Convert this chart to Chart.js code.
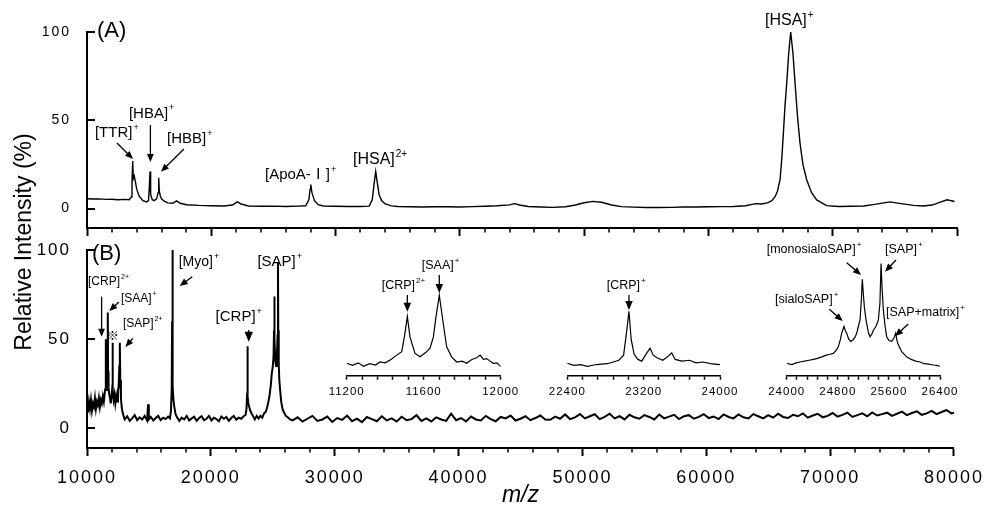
<!DOCTYPE html>
<html>
<head>
<meta charset="utf-8">
<script src="https://cdn.jsdelivr.net/npm/chart.js"></script>
<style>
html, body { margin: 0; padding: 0; background: #fff; }
#wrap { position: relative; width: 990px; height: 507px; }
#wrap canvas { position: absolute; left: 0; top: 0; }
</style>
</head>
<body>
<div id="wrap">
  <canvas id="chartA" width="990" height="507"></canvas>
  <canvas id="chartB" width="990" height="507"></canvas>
  <canvas id="inset1" width="990" height="507"></canvas>
  <canvas id="inset2" width="990" height="507"></canvas>
  <canvas id="inset3" width="990" height="507"></canvas>
</div>
<script>
// Tick labels
const xTickLabels = [10000, 20000, 30000, 40000, 50000, 60000, 70000, 80000];
const yTickLabels = [0, 50, 100];
const in1TickLabels = [11200, 11600, 12000];
const in2TickLabels = [22400, 23200, 24000];
const in3TickLabels = [24000, 24800, 25600, 26400];

// Panel (A) spectrum
const aMz = [10000,10500,11000,11500,12000,12500,13000,13400,13550,13620,
  13680,13720,13800,13900,14000,14200,14500,14800,14950,15020,
  15070,15120,15250,15400,15600,15720,15770,15820,15900,16000,
  16200,16500,16900,17200,17500,18000,19000,20000,21000,21700,
  22100,22400,23000,24000,25000,26000,27000,27600,27850,27950,
  28000,28100,28300,28600,29000,30000,31000,32000,32700,32950,
  33100,33230,33350,33500,33700,34000,34500,35000,36000,37000,
  38000,39000,40000,41000,42000,43000,44000,44400,44800,45500,
  46500,47500,48500,49300,50000,50700,51400,52200,53000,54000,
  55000,56000,57000,58000,59000,60000,61000,62000,63000,63800,
  64300,64800,65100,65360,65560,65760,65900,66030,66160,66300,
  66460,66620,66800,66970,67170,67370,67600,67910,68300,68710,
  69500,70500,71500,72500,73500,74600,75500,76500,77300,78000,
  78600,79200,79800];
const aInt = [5.6,5.4,5.5,5.2,5.3,5.0,5.2,5.0,6.5,15,
  27,17,18.5,15,11,7,4.5,3.8,4.5,13,
  21,8,5,4.5,5.5,9,17.5,10,7,5.5,
  4.2,3.2,3.0,4.4,3.0,2.2,1.8,1.6,1.5,2.0,
  3.8,2.6,1.5,1.3,1.4,1.2,1.4,1.6,5,11,
  13.6,9,4.5,2.2,1.5,1.3,1.2,1.2,1.4,5,
  14,21,15,8,4.5,2.6,1.5,1.2,1.0,0.9,
  1.0,1.0,0.9,1.1,1.3,1.6,2.1,2.8,2.0,1.2,
  0.9,0.7,1.0,2.0,3.3,4.1,3.6,2.0,1.1,0.8,
  0.6,0.6,0.7,0.9,0.9,1.0,1.1,1.2,1.6,2.8,
  2.6,3.4,4.5,6.7,10,16.2,28,42.6,58,71,
  88,100,88,71,52,37,25,16.2,9,4.9,
  1.7,1.2,1.3,1.5,2.5,3.8,2.8,1.8,1.5,2.0,
  3.5,5,4];

// Panel (B) spectrum
const bMz = [10000,10080,10160,10240,10320,10400,10480,10560,10640,10720,
  10800,10880,10960,11040,11120,11200,11280,11360,11420,11470,
  11510,11530,11550,11600,11640,11670,11685,11700,11740,11800,
  11860,11920,11980,12030,12060,12090,12150,12220,12290,12360,
  12430,12500,12560,12610,12650,12690,12740,12800,12870,12950,
  13050,13250,13450,13650,13850,14050,14250,14450,14650,14850,
  14930,14990,15150,15350,15550,15750,15950,16150,16350,16550,
  16700,16780,16840,16870,16890,16910,16940,16980,17050,17150,
  17250,17450,17650,17850,18050,18250,18450,18650,18850,19050,
  19250,19450,19650,19850,20050,20250,20450,20650,20850,21050,
  21250,21450,21650,21850,22050,22250,22450,22650,22800,22880,
  22930,22955,22980,23030,23100,23180,23280,23400,23550,23700,
  23850,24000,24150,24300,24450,24550,24650,24750,24850,24920,
  24990,25060,25100,25125,25150,25200,25260,25330,25390,25420,
  25445,25480,25530,25600,25680,25780,25900,26050,26250,26400,
  26600,27000,27400,27800,28200,28600,29000,29400,29800,30200,
  30600,31000,31400,31800,32200,32600,33000,33400,33800,34200,
  34600,35000,35400,35800,36200,36600,37000,37400,37800,38200,
  38600,39000,39400,39800,40200,40600,41000,41400,41800,42200,
  42600,43000,43400,43800,44200,44600,45000,45400,45800,46200,
  46600,47000,47400,47800,48200,48600,49000,49400,49800,50200,
  50600,51000,51400,51800,52200,52600,53000,53400,53800,54200,
  54600,55000,55400,55800,56200,56600,57000,57400,57800,58200,
  58600,59000,59400,59800,60200,60600,61000,61400,61800,62200,
  62600,63000,63400,63800,64200,64600,65000,65400,65800,66200,
  66600,67000,67400,67800,68200,68600,69000,69400,69800,70200,
  70600,71000,71400,71800,72200,72600,73000,73400,73800,74200,
  74600,75000,75400,75800,76200,76600,77000,77400,77800,78200,
  78600,79000,79400,79800,80000];
const bInt = [13,9,15,11,16,10,14,12,17,11,
  15,13,17,12,16,14,18,15,19,22,
  33,50,26,21,28,45,65,32,23,19,
  17,14,18,22,48,21,16,19,14,18,
  15,21,24,35,48,27,17,12,9,7,
  5,6.8,4.2,5.6,7.4,4.6,6.2,5,7,4.4,
  13.5,5,6.4,4.4,5.8,7,4.6,6,5.2,6.6,
  5.6,10,22,60,100,55,24,16,12,8,
  6.5,4.2,6,5,7,4.4,5.6,6.6,4.2,5.8,
  6.8,4.6,5.4,7,4.4,6,5.2,4,6.6,5.4,
  6.4,4.2,5.8,7,4.8,6,5.4,6.8,7.5,11,
  20,46,18,14,12,10,8.5,7,5,7,
  5.5,7,6,8.5,9.5,12,15,19,25,31,
  34,40,55,74,50,38,35,40,52,93,
  55,36,27,21,15,11,9,7,6,5,
  4.5,6.2,3.8,5.4,7,4.2,5,6.6,3.6,5.8,
  4.8,7.2,4,5.5,3.5,6.4,5.2,4,6.8,4.5,
  5.6,3.8,6.5,4.6,5.2,7.4,4.2,5.6,3.9,6.2,
  5,4.2,8.2,4.6,5.8,3.9,6.6,5,4.4,7,
  5.2,4,6.4,5.6,7.2,4.4,5.4,6.8,4.6,5.8,
  7.2,5,4.8,6.6,5.4,7.8,5.2,6.2,8,5.6,
  6.8,7.9,5.2,6.4,8.2,5.6,6.8,5,7.6,6.2,
  5.4,7.4,6.4,5,7.8,5.6,6.6,7.6,5.2,6.8,
  7.4,5.4,6.4,8,5.8,6.6,5.2,7.8,6.4,5.6,
  7.8,6.2,5.6,8,6.8,5.6,7.4,6,8.2,6.4,
  5.8,7.6,6.8,8.4,6,7.2,8.2,6.2,7,8.6,
  6.6,7.6,8.8,6.4,7.4,8.4,6.8,8.9,7.2,8,
  8.8,7,8.2,9.4,7.4,8.6,9.6,7.6,8.4,9.8,
  8,9.2,10.2,8.4,8.8];

// Insets
const in1Mz = [11200,11230,11260,11287,11320,11350,11373,11400,11430,11460,
  11486,11503,11515,11529,11555,11581,11610,11633,11650,11664,
  11681,11699,11719,11745,11771,11800,11823,11850,11875,11893,
  11910,11927,11945,11962,11980,12000];
const in1Int = [14.5,12,15,11,14,12.5,16,15,19,24,
  28,50,69,45,26,22,27,32,45,69,
  94,65,34,22,16,17,14.5,19,21,24,
  19,20,17,14.5,15,10.5];
const in2Mz = [22400,22470,22540,22610,22680,22750,22820,22880,22940,22990,
  23020,23046,23070,23100,23140,23180,23230,23267,23300,23340,
  23400,23450,23494,23530,23600,23680,23750,23820,23900,24000];
const in2Int = [14.5,12,13,11,12.5,13.5,14,16,18,24,
  50,75,42,25,19,17,26,32,24,21,
  18,22,26.5,19,17,18,15,16,14,13];
const in3Mz = [24000,24080,24150,24209,24280,24350,24420,24470,24550,24620,
  24680,24730,24780,24809,24840,24861,24897,24920,24939,24970,
  25002,25040,25070,25096,25130,25148,25170,25184,25200,25216,
  25240,25252,25280,25304,25330,25357,25400,25435,25460,25477,
  25495,25513,25540,25565,25600,25643,25680,25706,25730,25748,
  25800,25878,25950,26020,26087,26150,26220,26296,26350,26400];
const in3Int = [14.5,13,15,16,17,18,19,20,22,24,
  25,26,30,34,42,49.5,57.5,52,49.5,43,
  40,42,45,49.5,60,65,90,112.5,95,80,
  66,61,50,45.5,48,53,58,65,85,131,
  100,76.7,58,45.5,41,40,44,49.5,40,36,
  28,22,19,17,16,14,13.5,12.5,12,11];

const FONT = '"Liberation Sans", Arial, sans-serif';
const CJK = '"Liberation Sans", "Noto Sans CJK JP", sans-serif';

function pts(mz, val) {
    return mz.map((m, i) => ({ x: m, y: val[i] }));
}

function drawArrow(ctx, x1, y1, x2, y2, head) {
    const a = Math.atan2(y2 - y1, x2 - x1);
    const c = Math.cos(a), s = Math.sin(a);
    ctx.beginPath();
    ctx.moveTo(x1, y1);
    ctx.lineTo(x2 - c * head * 0.7, y2 - s * head * 0.7);
    ctx.stroke();
    ctx.beginPath();
    ctx.moveTo(x2, y2);
    ctx.lineTo(x2 - head * c + head * 0.42 * s, y2 - head * s - head * 0.42 * c);
    ctx.lineTo(x2 - head * c - head * 0.42 * s, y2 - head * s + head * 0.42 * c);
    ctx.closePath();
    ctx.fill();
}

function drawLabel(ctx, x, y, n) {
    const fam = n.cjk ? CJK : FONT;
    const size = n.size || 15;
    const ss = Math.round(size * 0.62);
    ctx.font = size + 'px ' + fam;
    const w1 = ctx.measureText(n.text).width;
    ctx.font = ss + 'px ' + FONT;
    const w2 = n.sup ? ctx.measureText(n.sup).width + 1 : 0;
    const x0 = n.align === 'center' ? x - (w1 + w2) / 2 : x;
    ctx.textAlign = 'left';
    ctx.textBaseline = 'middle';
    ctx.font = size + 'px ' + fam;
    ctx.fillText(n.text, x0, y);
    if (n.sup) {
        ctx.font = ss + 'px ' + FONT;
        ctx.fillText(n.sup, x0 + w1 + 1, y - size * 0.38);
    }
}

// draws minor ticks, inward y ticks, labels and arrows for one chart
function makeFig(cfg) {
    return {
        id: 'fig',
        beforeDraw(chart) {
            chart.ctx.letterSpacing = cfg.spacing || '0px';
        },
        afterDraw(chart) {
            const ctx = chart.ctx;
            const xs = chart.scales.x, ys = chart.scales.y;
            const area = chart.chartArea;
            ctx.save();
            ctx.letterSpacing = '0px';
            ctx.strokeStyle = '#000';
            ctx.fillStyle = '#000';
            if (cfg.minor) {
                ctx.lineWidth = 1.5;
                for (let i = 0; i < xTickLabels.length - 1; i++) {
                    const st = (xTickLabels[i + 1] - xTickLabels[i]) / 5;
                    for (let k = 1; k < 5; k++) {
                        const px = Math.round(xs.getPixelForValue(xTickLabels[i] + k * st));
                        ctx.beginPath();
                        ctx.moveTo(px, area.bottom);
                        ctx.lineTo(px, area.bottom + 4.5);
                        ctx.stroke();
                    }
                }
            }
            if (cfg.inward) {
                ctx.lineWidth = 2;
                yTickLabels.forEach(v => {
                    const py = Math.round(ys.getPixelForValue(v));
                    ctx.beginPath();
                    ctx.moveTo(area.left, py);
                    ctx.lineTo(area.left + 8, py);
                    ctx.stroke();
                });
            }
            ctx.lineWidth = 1.3;
            (cfg.notes || []).forEach(n => {
                if (n.arrow) {
                    drawArrow(ctx,
                        xs.getPixelForValue(n.arrow[0]), ys.getPixelForValue(n.arrow[1]),
                        xs.getPixelForValue(n.arrow[2]), ys.getPixelForValue(n.arrow[3]),
                        n.head || 8);
                }
                if (n.text) {
                    drawLabel(ctx, xs.getPixelForValue(n.x), ys.getPixelForValue(n.y), n);
                }
            });
            if (cfg.titles) {
                ctx.textAlign = 'center';
                ctx.textBaseline = 'middle';
                ctx.font = 'italic 23px ' + FONT;
                ctx.fillText('m/z', (area.left + area.right) / 2, 496);
                ctx.save();
                ctx.translate(25, 242);
                ctx.rotate(-Math.PI / 2);
                ctx.font = '23px ' + FONT;
                ctx.fillText('Relative Intensity (%)', 0, 0);
                ctx.restore();
            }
            ctx.restore();
        }
    };
}

const notesA = [
    { text: '(A)', x: 10800, y: 100.5, size: 22 },
    { text: '[TTR]', sup: '+', x: 10640, y: 42.8, arrow: [12410, 37.1, 13700, 28.1] },
    { text: '[HBA]', sup: '+', x: 15200, y: 53.8, align: 'center', arrow: [15100, 47.3, 15100, 26.4] },
    { text: '[HBB]', sup: '+', x: 16440, y: 39.4, arrow: [17800, 33.7, 15950, 20.9] },
    { text: '[ApoA-Ⅰ]', sup: '+', x: 24320, y: 19.0, cjk: true },
    { text: '[HSA]', sup: '2+', x: 31400, y: 27.5, size: 16 },
    { text: '[HSA]', sup: '+', x: 64550, y: 106.2, size: 16 }
];

const notesB = [
    { text: '(B)', x: 10400, y: 97.8, size: 22 },
    { text: '[CRP]', sup: '2+', x: 10080, y: 82.1, size: 12, arrow: [11180, 73.8, 11180, 51.4] },
    { text: '[SAA]', sup: '+', x: 12740, y: 72.5, size: 12, arrow: [12570, 70.8, 11800, 65.8] },
    { text: '※', x: 12050, y: 51.8, size: 13, align: 'center', cjk: true },
    { text: '[SAP]', sup: '2+', x: 12900, y: 58.5, size: 12, arrow: [13700, 50.5, 13100, 45.6] },
    { text: '[Myo]', sup: '+', x: 17400, y: 93.3, size: 14, arrow: [18500, 85.0, 17480, 79.8] },
    { text: '[CRP]', sup: '+', x: 20380, y: 62.4, size: 15, arrow: [23060, 55.2, 23060, 48.6], head: 10 },
    { text: '[SAP]', sup: '+', x: 23760, y: 93.3, size: 15 }
];

const notesIn1 = [
    { text: '[CRP]', sup: '2+', x: 11382, y: 104.7, size: 12.5, arrow: [11515, 94.2, 11515, 74.7], head: 9 },
    { text: '[SAA]', sup: '+', x: 11590, y: 128, size: 12.5, arrow: [11681, 117.5, 11681, 96.5], head: 9 }
];
const notesIn2 = [
    { text: '[CRP]', sup: '+', x: 22813, y: 104.7, size: 12.5, arrow: [23046, 94.2, 23046, 76.7], head: 9 }
];
const notesIn3 = [
    { text: '[monosialoSAP]', sup: '+', x: 23687, y: 146.7, size: 12.5, arrow: [24939, 131.9, 25163, 117.5] },
    { text: '[SAP]', sup: '+', x: 25539, y: 146.7, size: 12.5, arrow: [25711, 135, 25539, 121.4] },
    { text: '[sialoSAP]', sup: '+', x: 23817, y: 88.3, size: 12.5, arrow: [24667, 77.5, 24877, 63.8] },
    { text: '[SAP+matrix]', sup: '+', x: 25555, y: 73.2, size: 12.5, arrow: [25904, 60.3, 25696, 46.3] }
];

function mainChart(id, mz, val, opts) {
    return new Chart(document.getElementById(id), {
        type: 'line',
        data: {
            datasets: [{
                data: pts(mz, val),
                borderColor: '#000',
                borderWidth: opts.lineWidth,
                pointRadius: 0,
                tension: 0
            }]
        },
        options: {
            responsive: false,
            animation: false,
            events: [],
            layout: { padding: opts.padding },
            plugins: { legend: { display: false }, tooltip: { enabled: false } },
            scales: {
                x: {
                    type: 'linear',
                    min: xTickLabels[0],
                    max: xTickLabels[xTickLabels.length - 1],
                    afterBuildTicks: s => { s.ticks = xTickLabels.map(v => ({ value: v })); },
                    afterFit: s => { s.height = opts.xHeight; },
                    ticks: {
                        display: opts.xLabels,
                        autoSkip: false,
                        maxRotation: 0,
                        color: '#000',
                        padding: 11,
                        font: { family: FONT, size: 18 },
                        callback: v => String(v)
                    },
                    grid: { drawOnChartArea: false, tickLength: 8, tickWidth: 2, tickColor: '#000' },
                    border: { color: '#000', width: 2 }
                },
                y: {
                    min: -11,
                    max: 100,
                    afterBuildTicks: s => { s.ticks = yTickLabels.map(v => ({ value: v })); },
                    afterFit: s => { s.width = 87; },
                    ticks: { color: '#000', padding: 8, font: { family: FONT, size: opts.ySize }, callback: v => String(v) },
                    grid: { display: false },
                    border: { color: '#000', width: 2 }
                }
            }
        },
        plugins: [makeFig({ spacing: '2px', minor: true, inward: true, notes: opts.notes, titles: opts.titles })]
    });
}

function insetChart(id, mz, val, labels, padL, padR, notes) {
    return new Chart(document.getElementById(id), {
        type: 'line',
        data: {
            datasets: [{
                data: pts(mz, val),
                borderColor: '#000',
                borderWidth: 1.2,
                pointRadius: 0,
                tension: 0
            }]
        },
        options: {
            responsive: false,
            animation: false,
            events: [],
            layout: { padding: { top: 255.7, bottom: 106.3, left: padL, right: padR } },
            plugins: { legend: { display: false }, tooltip: { enabled: false } },
            scales: {
                x: {
                    type: 'linear',
                    min: labels[0],
                    max: labels[labels.length - 1],
                    afterBuildTicks: s => {
                        const t = [];
                        for (let i = 0; i < labels.length - 1; i++) {
                            const st = (labels[i + 1] - labels[i]) / 5;
                            for (let k = 0; k < 5; k++) t.push({ value: labels[i] + k * st });
                        }
                        t.push({ value: labels[labels.length - 1] });
                        s.ticks = t;
                    },
                    afterFit: s => { s.height = 25; },
                    ticks: {
                        autoSkip: false,
                        maxRotation: 0,
                        color: '#000',
                        padding: 5,
                        font: { family: FONT, size: 11.5 },
                        callback: v => labels.includes(v) ? String(v) : ''
                    },
                    grid: { drawOnChartArea: false, tickLength: 4, tickWidth: 1.5, tickColor: '#000' },
                    border: { color: '#000', width: 1.5 }
                },
                y: { display: false, min: 0, max: 140 }
            }
        },
        plugins: [makeFig({ spacing: '1px', notes: notes })]
    });
}

mainChart('chartA', aMz, aInt, {
    padding: { top: 32, right: 33, bottom: 271, left: 0 },
    xHeight: 8, xLabels: false, ySize: 14, lineWidth: 1.4, notes: notesA
});
mainChart('chartB', bMz, bInt, {
    padding: { top: 250, right: 33, bottom: 0, left: 0 },
    xHeight: 59, xLabels: true, ySize: 17, lineWidth: 2, notes: notesB, titles: true
});
insetChart('inset1', in1Mz, in1Int, in1TickLabels, 346.7, 489.3, notesIn1);
insetChart('inset2', in2Mz, in2Int, in2TickLabels, 567.3, 270, notesIn2);
insetChart('inset3', in3Mz, in3Int, in3TickLabels, 786.7, 50, notesIn3);
</script>
</body>
</html>
